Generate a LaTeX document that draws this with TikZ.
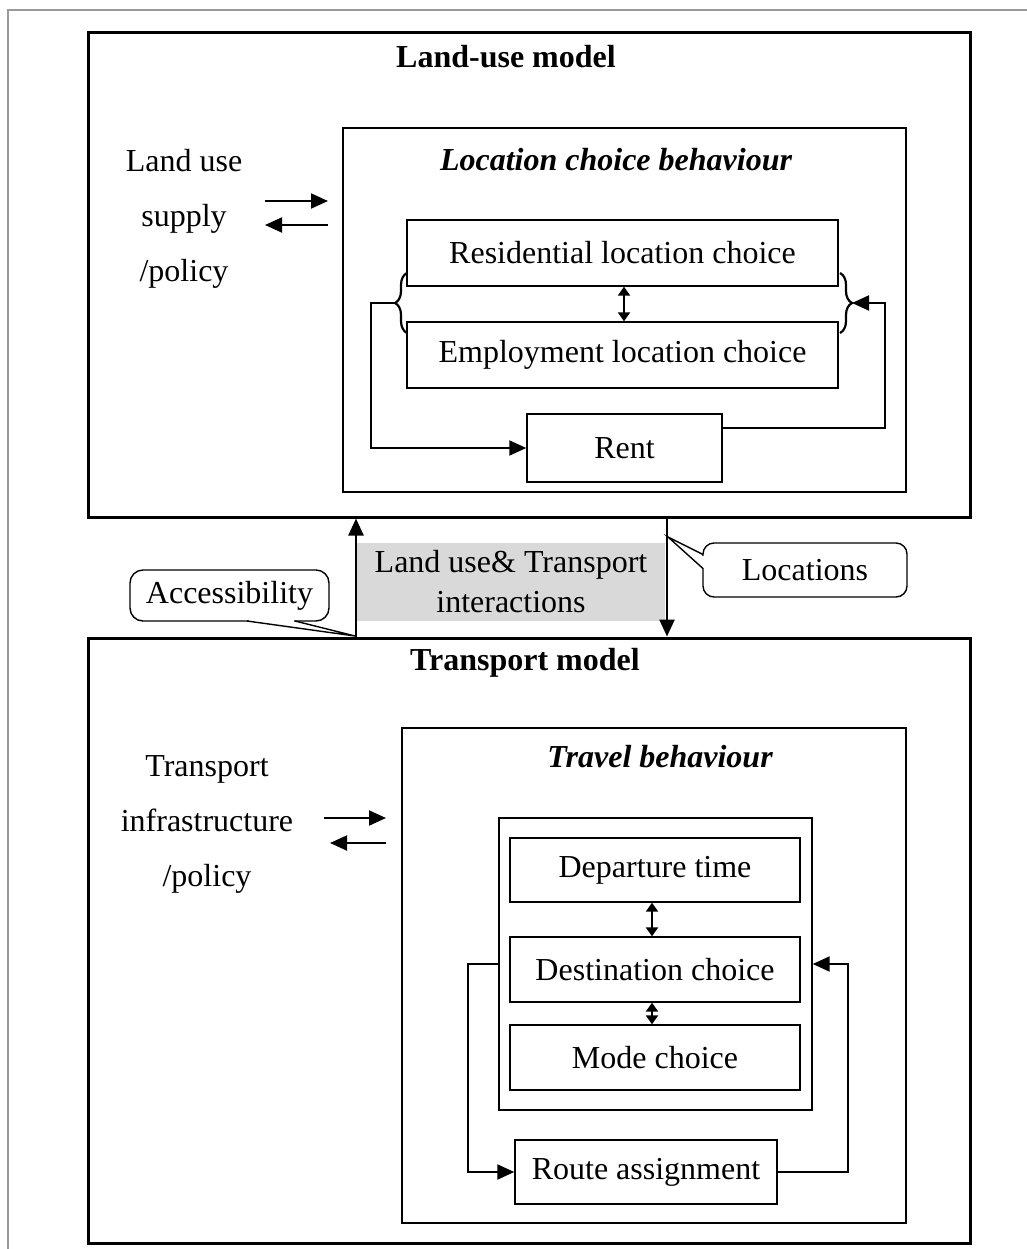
\documentclass[tikz,border=0pt]{standalone}
\usepackage{fontspec}
\setmainfont{Liberation Serif}
\usetikzlibrary{arrows.meta,decorations.pathreplacing}
\begin{document}
\begin{tikzpicture}[x=1pt,y=-1pt,
  every node/.style={font=\fontsize{32}{38}\selectfont, inner sep=0pt},
  frame/.style={draw=black!40, line width=2pt},
  modelbox/.style={draw, line width=3pt},
  thinbox/.style={draw, line width=1.4pt},
  titletext/.style={font=\fontsize{32}{38}\selectfont\bfseries},
  subtitle/.style={font=\fontsize{32}{38}\selectfont\bfseries\itshape},
  sidetext/.style={align=center, font=\fontsize{32}{55}\selectfont},
  conn/.style={line width=2pt, -{Triangle[length=17pt,width=15pt]}},
  bothways/.style={line width=2.2pt, {Triangle[length=9pt,width=12pt]}-{Triangle[length=9pt,width=12pt]}},
  linkarrow/.style={line width=2.5pt, -{Triangle[length=17pt,width=15pt]}},
  calloutline/.style={line width=1.4pt},
  bracestyle/.style={line width=2.2pt, decorate, decoration={brace, amplitude=12pt}},
]
\useasboundingbox (0,0) rectangle (1027,1249);

% page frame
\draw[frame] (8,1249) -- (8,10) -- (1027,10);

% ---------------- land-use model ----------------
\node[modelbox, minimum width=882pt, minimum height=484pt] (lu) at (529,275) {};
\node[titletext] (lutitle) at (506,57) {Land-use model};
\node[thinbox, minimum width=563pt, minimum height=364pt] (lcb) at (624.5,310) {};
\node[subtitle] (lcbtitle) at (616,160) {Location choice behaviour};
\node[thinbox, minimum width=431pt, minimum height=66pt] (res) at (622.5,253) {Residential location choice};
\node[thinbox, minimum width=431pt, minimum height=66pt] (emp) at (622.5,355) {Employment location choice};
\node[thinbox, minimum width=195pt, minimum height=68pt] (rent) at (624.5,448) {Rent};
\node[sidetext] (lsupply) at (184,219) {Land use\\supply\\/policy};

\coordinate (la1) at (265,201);
\coordinate (la2) at (328,201);
\coordinate (la3) at (328,225);
\coordinate (la4) at (265,225);
\draw[conn] (la1) -- (la2);
\draw[conn] (la3) -- (la4);

\draw[bothways] (res.south -| 624,0) -- (emp.north -| 624,0);

% braces grouping the two location choices
\draw[bracestyle] (407,333) -- (407,273);
\draw[bracestyle] (840,273) -- (840,333);
\coordinate (lbtip) at (395,303);
\coordinate (rbtip) at (852,303);
\coordinate (lturn) at (371,303);
\coordinate (rturn) at (885,428);

\draw[conn] (lbtip) -- (lturn) |- (rent.west);
\draw[conn] ([yshift=20pt]rent.east) -- (rturn) |- (rbtip);

% ---------------- interactions ----------------
\node[fill=black!15, minimum width=308pt, minimum height=78pt, align=center,
      font=\fontsize{32}{40}\selectfont] (inter) at (511,582)
      {Land use\& Transport\\interactions};

% ---------------- transport model ----------------
\node[modelbox, minimum width=882pt, minimum height=605pt] (tm) at (529,940.5) {};
\node[titletext] (tmtitle) at (525,663) {Transport model};
\node[thinbox, minimum width=504pt, minimum height=495pt] (tb) at (654,975.5) {};
\node[subtitle] (tbtitle) at (660,757) {Travel behaviour};
\node[thinbox, minimum width=313pt, minimum height=292pt] (grp) at (655.5,964) {};
\node[thinbox, minimum width=290pt, minimum height=64pt] (dep) at (655,870) {Departure time};
\node[thinbox, minimum width=290pt, minimum height=65pt] (dest) at (655,969.5) {Destination choice};
\node[thinbox, minimum width=290pt, minimum height=65pt] (mode) at (655,1057.5) {Mode choice};
\node[thinbox, minimum width=262pt, minimum height=64pt] (route) at (646,1172) {Route assignment};
\node[sidetext] (tinfra) at (207,824) {Transport\\infrastructure\\/policy};

\coordinate (ta1) at (324,818);
\coordinate (ta2) at (386,818);
\coordinate (ta3) at (386,843);
\coordinate (ta4) at (330,843);
\draw[conn] (ta1) -- (ta2);
\draw[conn] (ta3) -- (ta4);

\draw[bothways] (dep.south -| 652,0) -- (dest.north -| 652,0);
\draw[bothways] (dest.south -| 652,0) -- (mode.north -| 652,0);

\coordinate (tleft) at (468,964);
\coordinate (tright) at (848,1172);
\draw[conn] (grp.west) -- (tleft) |- (route.west);
\draw[conn] (route.east) -- (tright) |- (grp.east);

% links between the two models
\draw[linkarrow] (tm.north -| 356,0) -- (lu.south -| 356,0);
\draw[linkarrow] (lu.south -| 667,0) -- (tm.north -| 667,0);

% ---------------- callouts ----------------
\node (acc) at (229.5,595.5) {Accessibility};
\draw[calloutline, rounded corners=13pt] (130,570) rectangle (329,621);
\fill[white] (248.5,619.5) rectangle (293.5,622.6);
\coordinate (acctip) at (355,636);
\draw[calloutline, line join=miter] (247,621) -- (acctip) -- (295,621);

\node (loc) at (805,570) {Locations};
\draw[calloutline, rounded corners=11pt] (703,543) rectangle (907,597);
\fill[white] (701.5,555.5) rectangle (704.6,567.5);
\coordinate (loctip) at (668,537);
\draw[calloutline, line join=miter] (703,554.5) -- (loctip) -- (703,568.5);

\end{tikzpicture}
\end{document}
